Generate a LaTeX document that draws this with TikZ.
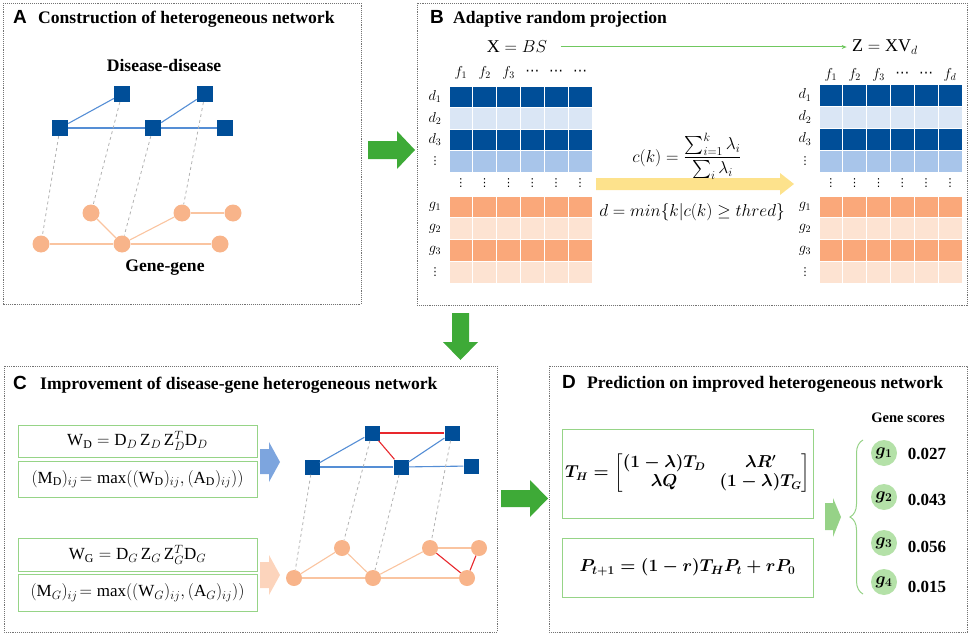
\documentclass[tikz,border=0pt]{standalone}
\usepackage{amsmath}
\usepackage{amssymb}
\usepackage{bm}
\usepackage{fontspec}
\setmainfont{Liberation Serif}
\newfontfamily\tagfont{Liberation Sans}
\newfontfamily\symfont{DejaVu Sans}
\usetikzlibrary{arrows.meta,decorations.pathreplacing}

\definecolor{netblue}{RGB}{0,78,152}
\definecolor{paleblue}{RGB}{218,230,245}
\definecolor{midblue}{RGB}{168,197,234}
\definecolor{cellorange}{RGB}{250,168,122}
\definecolor{paleorange}{RGB}{253,227,210}
\definecolor{nodeorange}{RGB}{248,180,138}
\definecolor{edgeblue}{RGB}{85,142,213}
\definecolor{edgeorange}{RGB}{250,196,160}
\definecolor{edgered}{RGB}{232,40,45}
\definecolor{arrowgreen}{RGB}{62,170,55}
\definecolor{arrowyellow}{RGB}{253,226,140}
\definecolor{linegreen}{RGB}{112,200,95}
\definecolor{boxgreen}{RGB}{150,212,135}
\definecolor{arrowblue}{RGB}{125,165,222}
\definecolor{arrowpeach}{RGB}{252,212,188}
\definecolor{arrowlight}{RGB}{150,210,135}
\definecolor{scoregreen}{RGB}{180,225,168}

% one-glyph dots
\newcommand{\vdotglyph}{{\symfont ⋮}}
\newcommand{\hdotglyph}{{\symfont ⋯}}

\begin{document}
\begin{tikzpicture}[x=1pt,y=-1pt,
  panel/.style={draw=black!55, densely dotted, line width=0.9pt},
  tag/.style={anchor=base west, inner sep=0pt, font=\tagfont\fontsize{19}{22}\selectfont\bfseries},
  title/.style={anchor=base west, inner sep=0pt, font=\fontsize{17.6}{20}\selectfont\bfseries},
  dnode/.style={fill=netblue, minimum size=16pt, inner sep=0pt},
  gnode/.style={circle, fill=nodeorange, minimum size=17pt, inner sep=0pt},
  dedge/.style={draw=edgeblue, line width=1.1pt},
  gedge/.style={draw=edgeorange, line width=1.1pt},
  redge/.style={draw=edgered, line width=1.1pt},
  link/.style={draw=black!30, dashed, line width=0.8pt},
  rowlabel/.style={font=\fontsize{14}{16}\selectfont, inner sep=0pt},
  dotlabel/.style={font=\fontsize{11}{13}\selectfont, inner sep=0pt},
  bmath/.style={font=\fontsize{18}{21}\selectfont},
  fbox/.style={draw=boxgreen, line width=1pt, minimum width=239pt, inner sep=0pt, font=\fontsize{17}{20}\selectfont},
  tbox/.style={draw=boxgreen, line width=1pt, minimum width=251pt, inner sep=0pt, font=\boldmath\fontsize{16}{19}\selectfont},
  score/.style={circle, fill=scoregreen, minimum size=26pt, inner sep=0pt, font=\boldmath\fontsize{17}{20}\selectfont},
  value/.style={font=\fontsize{17}{20}\selectfont\bfseries, inner sep=0pt}]
\useasboundingbox (0,0) rectangle (969,634);

% panel frames
\draw[panel] (3,3) rectangle (361,304);
\draw[panel] (417,3) rectangle (967,305);
\draw[panel] (4,366) rectangle (497,632);
\draw[panel] (549,366) rectangle (967,632);

\node[tag] (tagA) at (13,24) {A};
\node[title] (titA) at (38,24) {Construction of heterogeneous network};
\node[tag] (tagB) at (430,24) {B};
\node[title] (titB) at (453,24) {Adaptive random projection};
\node[tag] (tagC) at (13,389) {C};
\node[title] (titC) at (40,389) {Improvement of disease-gene heterogeneous network};
\node[tag] (tagD) at (562,388) {D};
\node[title] (titD) at (587,388) {Prediction on improved heterogeneous network};

% big arrows between panels
\fill[arrowgreen] (368,141) -- (397,141) -- (397,131) -- (415,150) -- (397,169) -- (397,159) -- (368,159) -- cycle;
\fill[arrowgreen] (452,313) -- (469,313) -- (469,342) -- (478,342) -- (460.5,360) -- (443,342) -- (452,342) -- cycle;
\fill[arrowgreen] (501,490) -- (530,490) -- (530,480) -- (548,498.5) -- (530,517) -- (530,507) -- (501,507) -- cycle;

% A: heterogeneous network
\node[title, anchor=base] (dislab) at (164,72) {Disease-disease};
\node[title, anchor=base] (genlab) at (165,271) {Gene-gene};
\node[dnode] (dA1) at (122,94) {};
\node[dnode] (dA2) at (205,94) {};
\node[dnode] (dA3) at (60,128) {};
\node[dnode] (dA4) at (153,128) {};
\node[dnode] (dA5) at (225,128) {};
\node[gnode] (gA1) at (91,213) {};
\node[gnode] (gA2) at (182,213) {};
\node[gnode] (gA3) at (233,213) {};
\node[gnode] (gA4) at (41,244) {};
\node[gnode] (gA5) at (122,244) {};
\node[gnode] (gA6) at (220,244) {};

\draw[dedge] (dA3) -- (dA1);
\draw[dedge] (dA3) -- (dA4);
\draw[dedge] (dA4) -- (dA2);
\draw[dedge] (dA4) -- (dA5);
\draw[gedge] (gA4) -- (gA5);
\draw[gedge] (gA1) -- (gA5);
\draw[gedge] (gA5) -- (gA2);
\draw[gedge] (gA2) -- (gA3);
\draw[gedge] (gA5) -- (gA6);
\draw[link] (dA3) -- (gA4);
\draw[link] (dA1) -- (gA1);
\draw[link] (dA4) -- (gA5);
\draw[link] (dA2) -- (gA2);

% B: random projection
\node[bmath] (xbs) at (517,47) {$\mathrm{X}=BS$};
\node[bmath] (zxv) at (885,47) {$\mathrm{Z}=\mathrm{XV}_d$};
\draw[linegreen, line width=1pt, -{Stealth[length=5pt,width=4pt]}, shorten <=10pt, shorten >=2pt] (xbs.east) -- (xbs.east -| zxv.west);

\foreach \r/\col in {0/netblue,1/paleblue,2/netblue,3/midblue}
  \foreach \k in {0,...,5}
    \filldraw[fill=\col, draw=white, line width=0.8pt] ({449+\k*23.83},{86+\r*21.5}) rectangle ++(23.83,21.5);
\foreach \r/\col in {0/cellorange,1/paleorange,2/cellorange,3/paleorange}
  \foreach \k in {0,...,5}
    \filldraw[fill=\col, draw=white, line width=0.8pt] ({449+\k*23.83},{196+\r*21.75}) rectangle ++(23.83,21.75);
\foreach \r/\col in {0/netblue,1/paleblue,2/netblue,3/midblue}
  \foreach \k in {0,...,5}
    \filldraw[fill=\col, draw=white, line width=0.8pt] ({819+\k*23.83},{84+\r*22}) rectangle ++(23.83,22);
\foreach \r/\col in {0/cellorange,1/paleorange,2/cellorange,3/paleorange}
  \foreach \k in {0,...,5}
    \filldraw[fill=\col, draw=white, line width=0.8pt] ({819+\k*23.83},{196+\r*21.75}) rectangle ++(23.83,21.75);

\foreach \t [count=\k from 0] in {$f_1$,$f_2$,$f_3$,\hdotglyph,\hdotglyph,\hdotglyph}
  \node[rowlabel] (fL\k) at ({460.9+\k*23.83},73) {\t};
\foreach \t [count=\k from 0] in {$f_1$,$f_2$,$f_3$,\hdotglyph,\hdotglyph,$f_d$}
  \node[rowlabel] (fR\k) at ({830.9+\k*23.83},75) {\t};
\foreach \t [count=\r from 0] in {$d_1$,$d_2$,$d_3$}
  \node[rowlabel] (dL\r) at (435,{96.75+\r*21.5}) {\t};
\foreach \t [count=\r from 0] in {$g_1$,$g_2$,$g_3$}
  \node[rowlabel] (gL\r) at (435,{206.9+\r*21.75}) {\t};
\foreach \t [count=\r from 0] in {$d_1$,$d_2$,$d_3$}
  \node[rowlabel] (dR\r) at (805,{95+\r*22}) {\t};
\foreach \t [count=\r from 0] in {$g_1$,$g_2$,$g_3$}
  \node[rowlabel] (gR\r) at (805,{206.9+\r*21.75}) {\t};
\node[dotlabel] (dL3) at (435,161) {\vdotglyph};
\node[dotlabel] (gL3) at (435,272) {\vdotglyph};
\node[dotlabel] (dR3) at (805,161) {\vdotglyph};
\node[dotlabel] (gR3) at (805,272) {\vdotglyph};
\foreach \k in {0,...,5} {
  \node[dotlabel] (vL\k) at ({460.9+\k*23.83},183) {\vdotglyph};
  \node[dotlabel] (vR\k) at ({830.9+\k*23.83},183) {\vdotglyph};
}

\fill[arrowyellow] (596,178) -- (780,178) -- (780,173) -- (794,184) -- (780,195) -- (780,190) -- (596,190) -- cycle;
\node[bmath] (ck) at (687,156) {$c(k)=\dfrac{\sum\nolimits_{i=1}^{k}\lambda_i}{\sum\nolimits_{i}\lambda_i}$};
\node[bmath] (dmin) at (692,212) {$d=min\{k|c(k)\geq thred\}$};

% C: improved network
\node[fbox, minimum height=32pt] (wd) at (137.5,441) {$\mathrm{W_D}=\mathrm{D}_D\,\mathrm{Z}_D\,\mathrm{Z}_D^T\mathrm{D}_D$};
\node[fbox, minimum height=36pt] (md) at (137.5,479) {$(\mathrm{M_D})_{ij}\!=\max((\mathrm{W_D})_{ij},(\mathrm{A_D})_{ij}))$};
\node[fbox, minimum height=33pt] (wg) at (137.5,554.5) {$\mathrm{W_G}=\mathrm{D}_G\,\mathrm{Z}_G\,\mathrm{Z}_G^T\mathrm{D}_G$};
\node[fbox, minimum height=37pt] (mg) at (137.5,592.5) {$(\mathrm{M}_G)_{ij}\!=\max((\mathrm{W}_G)_{ij},(\mathrm{A}_G)_{ij}))$};

\fill[arrowblue] (260,449) -- (269,449) -- (269,442) -- (280,462) -- (269,482) -- (269,474) -- (260,474) -- cycle;
\fill[arrowpeach] (260,562) -- (269,562) -- (269,555) -- (280,575) -- (269,595) -- (269,588) -- (260,588) -- cycle;

\node[dnode, minimum size=15pt] (dC1) at (312,467) {};
\node[dnode, minimum size=15pt] (dC2) at (372,433) {};
\node[dnode, minimum size=15pt] (dC3) at (401,467) {};
\node[dnode, minimum size=15pt] (dC4) at (452,433) {};
\node[dnode, minimum size=15pt] (dC5) at (471,466) {};
\node[gnode, minimum size=16pt] (gC1) at (294,578) {};
\node[gnode, minimum size=16pt] (gC2) at (342,548) {};
\node[gnode, minimum size=16pt] (gC3) at (373,578) {};
\node[gnode, minimum size=16pt] (gC4) at (430,548) {};
\node[gnode, minimum size=16pt] (gC5) at (479,548) {};
\node[gnode, minimum size=16pt] (gC6) at (467,578) {};

\draw[dedge] (dC1) -- (dC2);
\draw[dedge] (dC1) -- (dC3);
\draw[dedge] (dC3) -- (dC5);
\draw[dedge] (dC3) -- (dC4);
\draw[redge] (dC2) -- (dC4);
\draw[redge] (dC2) -- (dC3);
\draw[gedge] (gC1) -- (gC2);
\draw[gedge] (gC1) -- (gC3);
\draw[gedge] (gC2) -- (gC3);
\draw[gedge] (gC3) -- (gC4);
\draw[gedge] (gC4) -- (gC5);
\draw[gedge] (gC3) -- (gC6);
\draw[redge] (gC4) -- (gC6);
\draw[redge] (gC5) -- (gC6);
\draw[link] (dC1) -- (gC1);
\draw[link] (dC2) -- (gC2);
\draw[link] (dC3) -- (gC3);
\draw[link] (dC4) -- (gC4);

% D: prediction
\node[tbox, minimum height=89pt] (th) at (687.5,473.5) {\arraycolsep=7pt$T_H=\begin{bmatrix}(1-\lambda)T_D & \lambda R' \\ \lambda Q & (1-\lambda)T_G\end{bmatrix}$};
\node[tbox, minimum height=59pt, font=\boldmath\fontsize{17}{20}\selectfont] (pt) at (687.5,567.5) {$P_{t+1}=(1-r)T_HP_t+rP_0$};

\fill[arrowlight] (825,503) -- (833,503) -- (833,498) -- (841,517) -- (833,537) -- (833,530) -- (825,530) -- cycle;

\coordinate (braceB) at (863,594);
\coordinate (braceT) at (863,440);
\draw[arrowlight, line width=1pt, decorate, decoration={brace, amplitude=13pt}] (braceB) -- (braceT);

\node[font=\fontsize{14.5}{17}\selectfont\bfseries] (gscores) at (908,418) {Gene scores};
\node[score] (s1) at (884,453) {$g_1$};
\node[score] (s2) at (884,497) {$g_2$};
\node[score] (s3) at (884,543) {$g_3$};
\node[score] (s4) at (884,582) {$g_4$};
\node[value] (v1) at (927,454) {0.027};
\node[value] (v2) at (927,500) {0.043};
\node[value] (v3) at (927,547) {0.056};
\node[value] (v4) at (927,587) {0.015};
\end{tikzpicture}
\end{document}
